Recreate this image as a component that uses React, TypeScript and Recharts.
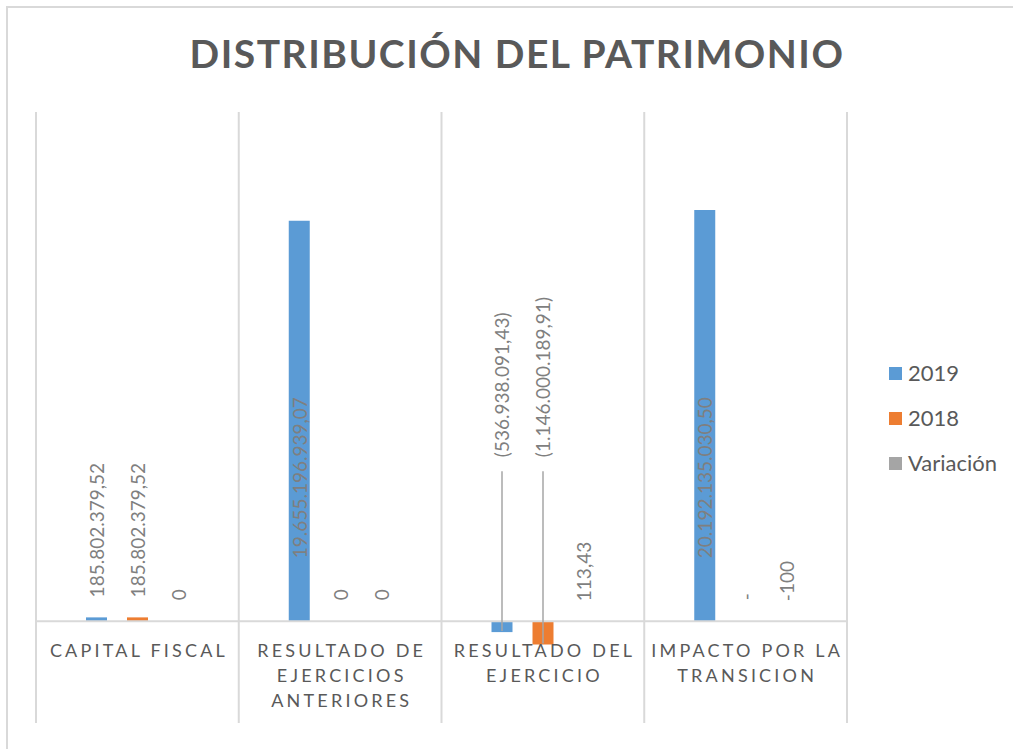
import { BarChart, Bar, XAxis, YAxis, ReferenceLine, LabelList, Rectangle } from "recharts";

// Distribución del patrimonio, cifras en pesos
const categories = [
  "CAPITAL FISCAL",
  "RESULTADO DE EJERCICIOS ANTERIORES",
  "RESULTADO DEL EJERCICIO",
  "IMPACTO POR LA TRANSICION",
];
const values2019 = [185802379.52, 19655196939.07, -536938091.43, 20192135030.5];
const values2018 = [185802379.52, 0, -1146000189.91, 0];
const variacion = [0, 0, 113.43, -100];

// cell number format of the 2018 column (accounting shows zero as a dash)
const format2018 = ["number", "number", "number", "accounting"];

const seriesNames = ["2019", "2018", "Variación"];
const seriesColors = ["#5b9bd5", "#ed7d31", "#a5a5a5"];

const Y_MIN = -5e9;
const Y_MAX = 25e9;

const WIDTH = 1013;
const HEIGHT = 749;
const PLOT_TOP = 112;
const PLOT_BOTTOM = 723;
const PLOT_LEFT = 36;
const PLOT_RIGHT = 847;
const ZERO_Y = PLOT_TOP + ((PLOT_BOTTOM - PLOT_TOP) * Y_MAX) / (Y_MAX - Y_MIN);

const FONT = "Lato, 'Open Sans', sans-serif";
const GRID = "#d9d9d9";

const rows = categories.map((category, i) => ({
  category,
  y2019: values2019[i],
  y2018: values2018[i],
  variacion: variacion[i],
}));

// 1.234.567,89 with accounting parentheses for negatives
function fmtMoney(v: number, accounting = false) {
  if (v === 0) return accounting ? "-" : "0";
  const [int, dec] = Math.abs(v).toFixed(2).split(".");
  const s = int.replace(/\B(?=(\d{3})+(?!\d))/g, ".") + "," + dec;
  return v < 0 ? `(${s})` : s;
}

function fmtPlain(v: number) {
  return String(v).replace(".", ",");
}

const seriesKeys = ["y2019", "y2018", "variacion"];
const seriesFormats: ((v: number, i: number) => string)[] = [
  (v) => fmtMoney(v),
  (v, i) => fmtMoney(v, format2018[i] === "accounting"),
  (v) => fmtPlain(v),
];

function wrapWords(text: string, max: number) {
  const lines: string[] = [];
  let cur = "";
  for (const w of text.split(" ")) {
    if (cur && (cur + " " + w).length > max) {
      lines.push(cur);
      cur = w;
    } else {
      cur = cur ? cur + " " + w : w;
    }
  }
  if (cur) lines.push(cur);
  return lines;
}

function CategoryTick(props: any) {
  const { x, payload } = props;
  const spacing = 3.2;
  const lines = wrapWords(payload.value, 14);
  return (
    <text
      x={x + spacing / 2}
      y={ZERO_Y + 36}
      textAnchor="middle"
      fill="#595959"
      fontSize={18}
      letterSpacing={spacing}
      fontFamily={FONT}
    >
      {lines.map((l, i) => (
        <tspan key={i} x={x + spacing / 2} dy={i === 0 ? 0 : 25}>
          {l}
        </tspan>
      ))}
    </text>
  );
}

// zero cells keep their slot (for the label) but draw no rectangle
function makeShape(key: string) {
  return function BarShape(props: any) {
    const v = props.payload?.[key];
    if (v == null || v === 0) return <g />;
    return <Rectangle {...props} />;
  };
}

// rotated value labels; tall bars carry the label inside, negatives get a leader line
function makeValueLabel(format: (v: number, i: number) => string) {
  return function ValueLabel(props: any) {
    const box = props.viewBox ?? props;
    const x = Number(box.x);
    const y = Number(box.y);
    const w = Number(box.width) || 0;
    const h = Number(box.height) || 0;
    const value = Number(props.value);
    const cx = x + w / 2;
    const top = Math.min(y, y + h);
    const bottom = Math.max(y, y + h);
    const text = format(value, props.index);
    const common = {
      fill: "#7f7f7f",
      fontSize: 19,
      fontFamily: FONT,
      dominantBaseline: "central" as const,
    };

    let start = Math.min(top, ZERO_Y) - 20;
    let leader = null;
    if (value < 0 && bottom - ZERO_Y > 5) {
      start = ZERO_Y - 164;
      leader = <line x1={cx} y1={ZERO_Y - 150} x2={cx} y2={bottom - 1} stroke="#a6a6a6" strokeWidth={1.5} />;
    } else if (bottom - top > 200) {
      start = ZERO_Y - 63;
    }
    return (
      <g>
        {leader}
        <text {...common} x={cx} y={start} textAnchor="start" transform={`rotate(-90, ${cx}, ${start})`}>
          {text}
        </text>
      </g>
    );
  };
}

export default function App() {
  return (
    <div style={{ position: "absolute", left: 0, top: 0, width: WIDTH, height: HEIGHT, overflow: "hidden", background: "#fff" }}>
      <div
        style={{
          position: "absolute",
          left: 6,
          top: 6,
          width: WIDTH + 20,
          height: HEIGHT + 20,
          border: `2px solid ${GRID}`,
          boxSizing: "border-box",
        }}
      />
      <BarChart
        width={WIDTH}
        height={HEIGHT}
        data={rows}
        margin={{ top: PLOT_TOP, right: WIDTH - PLOT_RIGHT, bottom: 0, left: PLOT_LEFT }}
        barSize={21}
        barGap={20}
        style={{ position: "absolute", left: 0, top: 0 }}
      >
        <XAxis
          dataKey="category"
          axisLine={false}
          tickLine={false}
          interval={0}
          height={HEIGHT - PLOT_BOTTOM}
          tick={<CategoryTick />}
        />
        <YAxis hide domain={[Y_MIN, Y_MAX]} allowDataOverflow />
        {/* category separators sit on the band edges */}
        {categories.map((c) => (
          <ReferenceLine key={c} x={c} position="start" stroke={GRID} strokeWidth={2} />
        ))}
        <ReferenceLine x={categories[categories.length - 1]} position="end" stroke={GRID} strokeWidth={2} />
        <ReferenceLine y={0} stroke={GRID} strokeWidth={2} />
        {seriesKeys.map((key, i) => (
          <Bar
            key={key}
            dataKey={key}
            name={seriesNames[i]}
            fill={seriesColors[i]}
            minPointSize={(v: number) => (v === 0 ? 1 : 0)}
            shape={makeShape(key)}
            isAnimationActive={false}
          >
            <LabelList dataKey={key} content={makeValueLabel(seriesFormats[i])} />
          </Bar>
        ))}
      </BarChart>
      <svg width={WIDTH} height={HEIGHT} style={{ position: "absolute", left: 0, top: 0, pointerEvents: "none" }}>
        <text
          x={517}
          y={68}
          textAnchor="middle"
          fill="#595959"
          fontSize={39}
          fontWeight={700}
          letterSpacing={1.5}
          fontFamily={FONT}
        >
          DISTRIBUCIÓN DEL PATRIMONIO
        </text>
        {seriesNames.map((name, i) => (
          <g key={name}>
            <rect x={889} y={367 + i * 45} width={13} height={13} fill={seriesColors[i]} />
            <text x={908} y={381 + i * 45} fill="#595959" fontSize={22} fontFamily={FONT}>
              {name}
            </text>
          </g>
        ))}
      </svg>
    </div>
  );
}
